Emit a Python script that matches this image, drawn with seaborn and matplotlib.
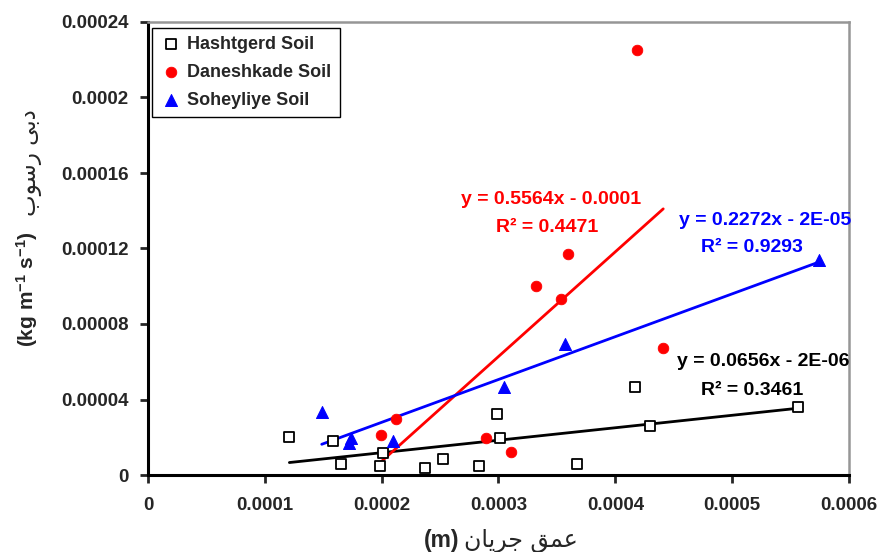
import matplotlib
matplotlib.use("Agg")
import matplotlib.pyplot as plt
import numpy as np
import pandas as pd
import seaborn as sns

# data
hasht_x = [1.21e-4, 1.58e-4, 1.65e-4, 2.015e-4, 1.986e-4, 2.37e-4, 2.526e-4,
           2.834e-4, 2.985e-4, 3.01e-4, 3.67e-4, 4.17e-4, 4.30e-4, 5.565e-4]
hasht_y = [2.01e-5, 1.79e-5, 5.7e-6, 1.18e-5, 4.8e-6, 3.9e-6, 8.3e-6,
           4.8e-6, 3.25e-5, 1.98e-5, 5.7e-6, 4.66e-5, 2.6e-5, 3.6e-5]

danesh_x = [4.187e-4, 3.596e-4, 3.322e-4, 3.536e-4, 4.41e-4, 2.123e-4, 1.998e-4, 2.891e-4, 3.111e-4]
danesh_y = [2.252e-4, 1.171e-4, 1.001e-4, 9.32e-5, 6.73e-5, 2.97e-5, 2.12e-5, 1.98e-5, 1.2e-5]

sohey_x = [1.487e-4, 1.735e-4, 1.724e-4, 2.1e-4, 3.05e-4, 3.565e-4, 5.74e-4]
sohey_y = [3.35e-5, 1.94e-5, 1.71e-5, 1.8e-5, 4.68e-5, 6.92e-5, 1.139e-4]

series_labels = ["Hashtgerd Soil", "Daneshkade Soil", "Soheyliye Soil"]
equations = ["y = 0.0656x - 2E-06", "y = 0.5564x - 0.0001", "y = 0.2272x - 2E-05"]
r2_texts = ["R² = 0.3461", "R² = 0.4471", "R² = 0.9293"]

x_ticks = [0, 0.0001, 0.0002, 0.0003, 0.0004, 0.0005, 0.0006]
x_ticklabels = ["0", "0.0001", "0.0002", "0.0003", "0.0004", "0.0005", "0.0006"]
y_ticks = [0, 0.00004, 0.00008, 0.00012, 0.00016, 0.0002, 0.00024]
y_ticklabels = ["0", "0.00004", "0.00008", "0.00012", "0.00016", "0.0002", "0.00024"]

# Persian labels, already in visual (shaped, left-to-right) order
x_label_fa = "\uFEE5\uFE8E\uFEF3\uFEAE\uFE9F \uFED6\uFEE4\uFECB"   # عمق جریان
y_label_fa = "\uFE8F\uFEEE\uFEB3\uFEAD \uFEF0\uFE91\uFEA9"         # دبی رسوب

sns.set_style("ticks")
plt.rcParams["font.family"] = ["Liberation Sans", "DejaVu Sans"]
plt.rcParams["mathtext.fontset"] = "custom"
plt.rcParams["mathtext.rm"] = "Liberation Sans"
plt.rcParams["mathtext.bf"] = "Liberation Sans:bold"
plt.rcParams["mathtext.default"] = "bf"

fig = plt.figure(figsize=(8.79, 5.52), dpi=100)
ax = fig.add_axes([148 / 879, 1 - 475 / 552, 701 / 879, 453 / 552])

colors = ["black", "red", "blue"]
xs = [hasht_x, danesh_x, sohey_x]
ys = [hasht_y, danesh_y, sohey_y]

# markers
sns.scatterplot(x=hasht_x, y=hasht_y, ax=ax, marker="s", s=48, facecolor="white",
                edgecolor="black", linewidth=1.3, label=series_labels[0], zorder=3)
sns.scatterplot(x=danesh_x, y=danesh_y, ax=ax, marker="o", s=58, color="red",
                edgecolor="red", label=series_labels[1], zorder=3)
sns.scatterplot(x=sohey_x, y=sohey_y, ax=ax, marker="^", s=75, color="blue",
                edgecolor="blue", label=series_labels[2], zorder=3)

# linear trend lines
for x, y, c in zip(xs, ys, colors):
    sns.regplot(x=np.array(x), y=np.array(y), ax=ax, scatter=False, ci=None,
                truncate=True, color=c, line_kws={"linewidth": 2.0, "zorder": 2})

ax.set_xlim(0, 0.0006)
ax.set_ylim(0, 0.00024)
ax.set_xticks(x_ticks)
ax.set_xticklabels(x_ticklabels)
ax.set_yticks(y_ticks)
ax.set_yticklabels(y_ticklabels)
ax.tick_params(direction="out", length=6, width=2, labelsize=13.5)
ax.tick_params(axis="x", pad=10)
ax.tick_params(axis="y", pad=8)
for lab in ax.get_xticklabels() + ax.get_yticklabels():
    lab.set_fontweight("bold")
ax.set_xlabel("")
ax.set_ylabel("")

for side in ["left", "bottom"]:
    ax.spines[side].set_color("black")
    ax.spines[side].set_linewidth(2.2)
for side in ["top", "right"]:
    ax.spines[side].set_visible(True)
    ax.spines[side].set_color("#969696")
    ax.spines[side].set_linewidth(1.8)

# equations
eq_pos = [(5.265e-4, 5.99e-5), (3.45e-4, 1.457e-4), (5.28e-4, 1.346e-4)]
r2_pos = [(5.17e-4, 4.5e-5), (3.42e-4, 1.309e-4), (5.17e-4, 1.203e-4)]
for eq, r2, ep, rp, c in zip(equations, r2_texts, eq_pos, r2_pos, colors):
    ax.text(ep[0], ep[1], eq, color=c, fontsize=14, fontweight="bold", ha="center", va="center")
    ax.text(rp[0], rp[1], r2, color=c, fontsize=14, fontweight="bold", ha="center", va="center")

leg = ax.legend(loc="upper left", bbox_to_anchor=(0.006, 0.987), borderaxespad=0,
                frameon=True, fancybox=False, framealpha=1, edgecolor="black",
                prop={"weight": "bold", "size": 13}, labelspacing=0.6,
                handletextpad=0.3, handlelength=1.2, borderpad=0.45)
leg.get_frame().set_linewidth(1.0)

# axis labels (units + Persian)
fig.text(424 / 879, 1 - 541 / 552, "(m)", fontsize=16.5, fontweight="bold",
         ha="left", va="center")
fig.text(464 / 879, 1 - 541 / 552, x_label_fa, family="DejaVu Sans", fontsize=17,
         ha="left", va="center")
fig.text(27 / 879, 1 - 289 / 552, "(kg m$^{-1}$ s$^{-1}$)", fontsize=15, fontweight="bold",
         rotation=90, ha="center", va="center")
fig.text(31 / 879, 1 - 163 / 552, y_label_fa, family="DejaVu Sans", fontsize=16.5,
         rotation=90, ha="center", va="center")

fig.savefig("out.png", dpi=100)
